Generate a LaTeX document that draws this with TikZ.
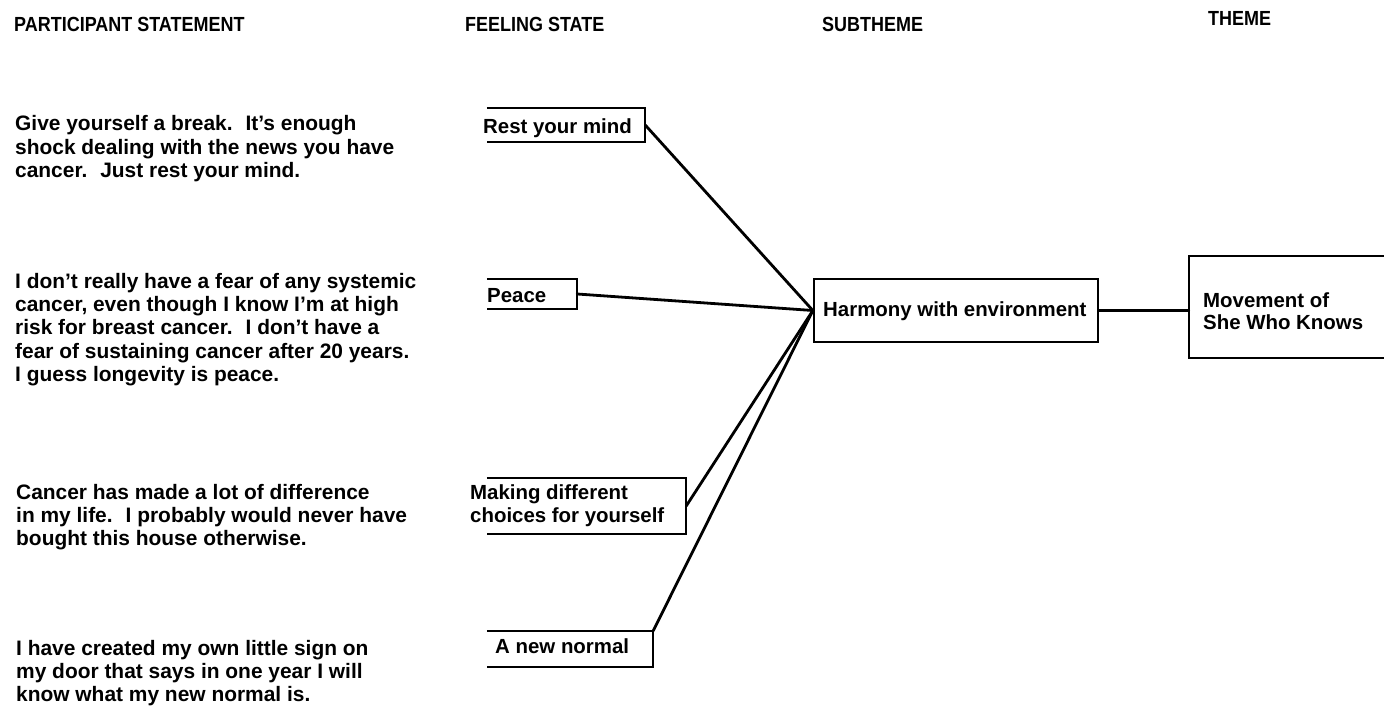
\documentclass[tikz,border=0pt]{standalone}
\usepackage{fontspec}
\setmainfont{Liberation Sans}
\newfontfamily\headfont{Liberation Sans}[FakeStretch=0.88]
\newcommand{\gap}{\hspace{13bp}}
\begin{document}
\begin{tikzpicture}[x=1bp,y=-1bp,
  hdr/.style={anchor=base west, inner sep=0pt, font=\headfont\fontsize{20.5}{24}\selectfont\bfseries},
  stmt/.style={anchor=base west, inner sep=0pt, font=\fontsize{21}{23.5}\selectfont\bfseries},
  txt/.style={anchor=base west, inner sep=0pt, font=\fontsize{20.5}{23.5}\selectfont\bfseries},
  slot/.style 2 args={rectangle, inner sep=0pt, minimum width=#1, minimum height=#2},
  frame/.style={line width=2.3bp, line join=miter},
  link/.style={line width=2.8bp, line cap=round}
]
\useasboundingbox (0,0) rectangle (1384,709);
\fill[white] (0,0) rectangle (1384,709);

% column headings
\node[hdr] (h1) at (14,32)   {PARTICIPANT STATEMENT};
\node[hdr] (h2) at (465,32)  {FEELING STATE};
\node[hdr] (h3) at (822,32)  {SUBTHEME};
\node[hdr] (h4) at (1208,26) {THEME};

% participant statements
\node[stmt] (s1) at (15,131) {\parbox[t]{520bp}{Give yourself a break.\gap It's enough\\
shock dealing with the news you have\\
cancer.\gap Just rest your mind.}};
\node[stmt] (s2) at (15,288) {\parbox[t]{520bp}{I don't really have a fear of any systemic\\
cancer, even though I know I'm at high\\
risk for breast cancer.\gap I don't have a\\
fear of sustaining cancer after 20 years.\\
I guess longevity is peace.}};
\node[stmt] (s3) at (16,499) {\parbox[t]{520bp}{Cancer has made a lot of difference\\
in my life.\gap I probably would never have\\
bought this house otherwise.}};
\node[stmt] (s4) at (16,655) {\parbox[t]{520bp}{I have created my own little sign on\\
my door that says in one year I will\\
know what my new normal is.}};

% feeling states: frames open on the left
\node[slot={158bp}{34bp}] (f1) at (566,125) {};
\node[slot={90bp}{30bp}]  (f2) at (532,294) {};
\node[slot={199bp}{56bp}] (f3) at (586.5,506) {};
\node[slot={166bp}{36bp}] (f4) at (570,649) {};
\foreach \f in {f1,f2,f3,f4}
  \draw[frame] (\f.north west) -- (\f.north east) -- (\f.south east) -- (\f.south west);

\node[txt] (t1) at (483,134) {Rest your mind};
\node[txt] (t2) at (487,302) {Peace};
\node[txt] (t3) at (470,499) {\parbox[t]{300bp}{Making different\\[0.5bp]choices for yourself}};
\node[txt] (t4) at (495,653) {A new normal};

% subtheme
\node[slot={284bp}{63bp}, draw, line width=2.3bp] (harm) at (956,310.5) {};
\node[txt] (harmtxt) at (823,316) {Harmony with environment};

% theme: frame runs off the right edge
\node[slot={200bp}{102bp}] (move) at (1289,307) {};
\draw[frame] (move.north east) -- (move.north west) -- (move.south west) -- (move.south east);
\node[txt] (movetxt) at (1203,307) {\parbox[t]{200bp}{\setlength{\baselineskip}{22bp}Movement of\\She Who Knows}};

% connectors
\draw[link] (f1.east) -- (harm.west);
\draw[link] (f2.east) -- (harm.west);
\draw[link] (f3.east) -- (harm.west);
\draw[link] (f4.north east) -- (harm.west);
\draw[link] (harm.east) -- (move.west |- harm.east);
\end{tikzpicture}
\end{document}
